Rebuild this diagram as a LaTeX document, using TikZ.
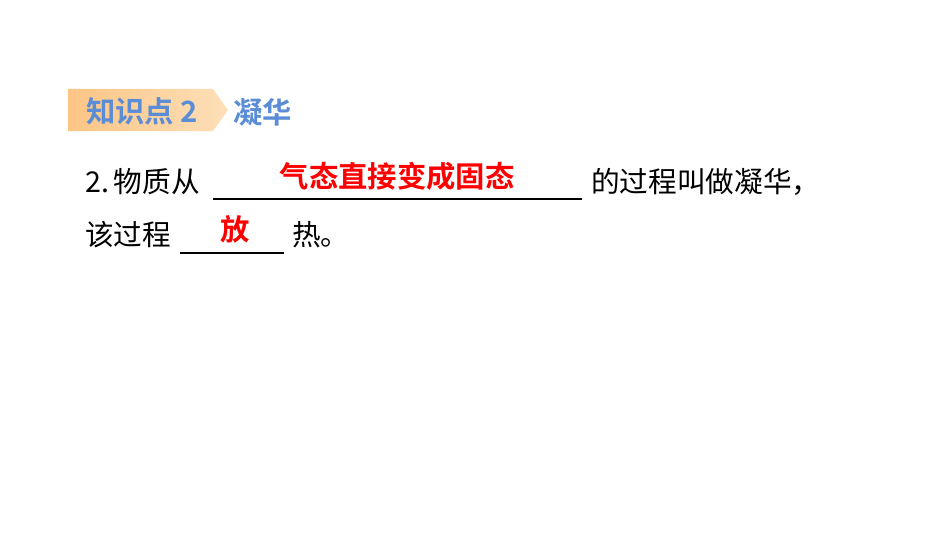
\documentclass[tikz,border=0pt]{standalone}
\usepackage{fontspec}
\usepackage{xcolor}
\usetikzlibrary{positioning}
\newfontfamily\cjk{Noto Sans CJK SC}
\newfontfamily\cjkbold{Noto Sans CJK SC Bold}
\definecolor{bannerleft}{HTML}{FCC585}
\definecolor{bannerright}{HTML}{FDDFB8}
\definecolor{titleblue}{HTML}{5B8DD6}
\definecolor{answerred}{HTML}{FF0000}

\tikzset{
  line/.style={inner sep=0pt, anchor=west, text height=0.88em, text depth=0.12em,
    font=\cjk\fontsize{21.5pt}{25pt}\selectfont},
  answer/.style={inner sep=0pt, text height=0.88em, text depth=0.12em,
    text=answerred, font=\cjkbold\fontsize{22pt}{25pt}\selectfont},
  title/.style={inner sep=0pt, anchor=west, text height=0.88em, text depth=0.12em,
    text=titleblue, font=\cjkbold\fontsize{22pt}{26pt}\selectfont},
  blank/.style={line width=0.9pt, black}
}

\begin{document}
\begin{tikzpicture}[x=0.75pt,y=-0.75pt]
    \useasboundingbox (0,0) rectangle (950,535);
    % banner
    \shade[left color=bannerleft, right color=bannerright]
      (68,89) -- (213,89) -- (228,110) -- (213,131) -- (68,131) -- cycle;
    \node[title] (kp) at (86,117) {知识点 2};
    \node[title] (topic) at (233,118) {凝华};
    % first line
    \node[line] (l1a) at (85,187) {2.\,物质从};
    \coordinate (u1s) at (213,199);
    \coordinate (u1e) at (582,199);
    \draw[blank] (u1s) -- (u1e);
    \node[answer] (ans1) at (397,182) {气态直接变成固态};
    \node[line] (l1b) at (591,187) {的过程叫做凝华，};
    % second line
    \node[line] (l2a) at (85,240) {该过程};
    \coordinate (u2s) at (180,253);
    \coordinate (u2e) at (284,253);
    \draw[blank] (u2s) -- (u2e);
    \node[answer] (ans2) at (235,235) {放};
    \node[line] (l2b) at (292,240) {热。};
\end{tikzpicture}
\end{document}
